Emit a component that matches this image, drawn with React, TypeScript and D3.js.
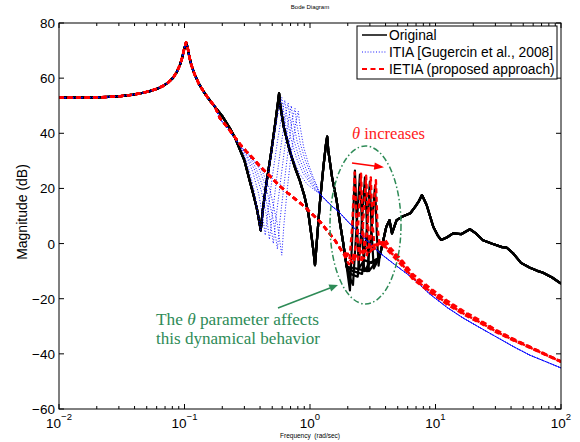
import React from "react";
import * as d3 from "d3";

type P = [number, number];

// ---------- data (frequency rad/s, magnitude dB) ----------
const lowFreq: P[] = [
  [0.01, 52.9], [0.015, 52.9], [0.02, 53.0], [0.025, 53.2], [0.03, 53.4], [0.039, 54.0],
  [0.046, 54.6], [0.053, 55.3], [0.06, 56.1], [0.067, 57.1], [0.074, 58.4], [0.081, 60.1],
  [0.087, 62.3], [0.092, 64.8], [0.096, 67.5], [0.099, 70.2], [0.103, 73.0], [0.106, 71.0],
  [0.109, 68.0], [0.113, 65.0], [0.12, 61.5], [0.13, 58.0], [0.145, 54.5], [0.16, 51.8], [0.175, 49.6],
];

const originalMid: P[] = [
  [0.2, 46.2], [0.23, 41.8], [0.255, 38.0], [0.277, 34.0], [0.3, 30.2], [0.33, 23.0], [0.355, 17.5],
  [0.376, 13.0], [0.392, 8.5], [0.405, 4.8], [0.42, 12.0], [0.45, 22.0], [0.49, 33.0], [0.53, 44.0],
  [0.555, 51.0], [0.567, 54.5], [0.58, 50.0], [0.62, 42.0], [0.69, 33.6], [0.76, 27.5], [0.83, 22.8],
  [0.9, 17.5], [0.97, 11.0], [1.03, 2.4], [1.07, -3.5], [1.096, -7.8], [1.13, 0.0], [1.2, 15.0],
  [1.28, 28.0], [1.34, 36.0], [1.37, 38.8], [1.4, 33.6], [1.5, 24.0], [1.63, 15.6], [1.74, 7.0],
  [1.84, 0.1], [1.96, -8.4],
];
const originalTheta1: P[] = [[2.08, -17], [2.18, 4], [2.28, 26.5], [2.36, 8], [2.45, -9], [2.7, -6], [3.1, -7], [3.58, -5]];
const originalTheta2: P[] = [[2.06, -12], [2.2, -15], [2.32, 2], [2.5, 25], [2.6, 6], [2.7, -10], [3.0, -7], [3.58, -5]];
const originalTheta3: P[] = [[2.1, -11], [2.4, -12], [2.55, 3], [2.74, 24], [2.85, 5], [2.95, -10], [3.3, -7], [3.58, -5]];
const originalTheta4: P[] = [[2.2, -10], [2.6, -11], [2.8, 2], [3.0, 22.5], [3.1, 4], [3.22, -9], [3.58, -5]];
const originalTheta5: P[] = [[2.3, -9], [2.85, -10], [3.05, 2], [3.3, 21], [3.42, 2], [3.52, -8], [3.58, -5]];
const originalTail: P[] = [
  [4.05, 6.0], [4.3, 8.5], [4.5, 3.7], [4.9, 8.5], [5.4, 9.7], [6.3, 11.0], [6.9, 13.4], [7.4, 15.5],
  [7.8, 17.6], [8.5, 14.0], [9.6, 6.1], [10.4, 3.0], [11.1, 1.3], [12.4, 2.3], [13.8, 3.7], [16.0, 3.4],
  [18.8, 5.2], [21.0, 3.7], [23.9, 1.2], [28.0, 0.0], [33.9, -1.3], [37.0, -1.5], [41.5, -3.5], [48.0, -7.0],
  [56.6, -8.8], [64.0, -9.8], [72.0, -10.6], [85.0, -12.3], [100, -14.5],
];

const itiaHead: P[] = [[0.192, 45.2], [0.22, 41.8], [0.25, 38.3], [0.277, 35.4]];
const itiaTheta1: P[] = [[0.3, 32], [0.33, 26], [0.36, 19], [0.385, 11], [0.405, 4.5], [0.425, 12], [0.46, 24], [0.51, 37], [0.56, 48], [0.596, 53], [0.615, 48], [0.66, 39], [0.73, 31], [0.82, 25.5], [0.95, 21.5], [1.08, 19.5]];
const itiaTheta2: P[] = [[0.31, 32], [0.35, 26], [0.39, 18], [0.42, 10], [0.44, 3], [0.46, 11], [0.5, 24], [0.55, 37], [0.6, 47.5], [0.63, 52], [0.65, 47], [0.7, 38.5], [0.78, 31], [0.88, 25.5], [1.0, 22], [1.1, 19.5]];
const itiaTheta3: P[] = [[0.31, 32.5], [0.36, 27], [0.41, 19], [0.45, 10], [0.475, 1.5], [0.5, 10], [0.54, 23], [0.59, 36], [0.64, 47], [0.67, 51], [0.69, 46], [0.74, 38], [0.82, 31], [0.92, 25.5], [1.03, 22], [1.12, 19.5]];
const itiaTheta4: P[] = [[0.32, 32.5], [0.37, 27.5], [0.43, 19.5], [0.48, 9], [0.51, 0], [0.535, 9], [0.58, 22], [0.63, 35], [0.68, 46], [0.71, 50], [0.73, 45], [0.79, 37], [0.87, 30.5], [0.97, 25], [1.08, 21.5], [1.15, 19.5]];
const itiaTheta5: P[] = [[0.33, 32], [0.39, 27.5], [0.45, 20], [0.51, 8.5], [0.55, -2], [0.575, 8], [0.62, 21], [0.67, 34], [0.72, 45], [0.76, 49], [0.78, 44], [0.84, 36], [0.92, 30], [1.02, 25], [1.12, 21]];
const itiaTheta6: P[] = [[0.34, 31.5], [0.41, 27], [0.48, 19.5], [0.55, 7], [0.596, -4.2], [0.62, 7], [0.66, 20], [0.71, 33], [0.77, 44], [0.807, 48], [0.83, 43], [0.89, 35], [0.97, 29], [1.06, 24], [1.15, 20.5]];
const itiaTail: P[] = [
  [1.2, 18.0], [1.32, 16.0], [1.5, 13.5], [1.7, 11.5], [2.0, 8.0], [2.5, 3.5], [3.0, 0.0], [3.6, -3.4],
  [4.34, -6.3], [5.4, -9.6], [6.7, -12.8], [9.0, -18.3], [12.4, -23.2], [16.6, -27.0], [22.6, -30.5],
  [30.9, -34.0], [41.5, -37.3], [56.6, -40.5], [77.3, -43.0], [100, -45.1],
];

const ietiaHead: P[] = [
  [0.192, 45.4], [0.22, 42.2], [0.25, 38.8], [0.28, 35.8], [0.31, 33.5], [0.35, 31.0], [0.4, 28.0],
  [0.48, 24.5], [0.57, 21.0], [0.66, 18.5], [0.77, 16.0], [0.9, 13.5], [1.05, 10.5], [1.2, 8.0],
  [1.36, 4.9], [1.58, 1.2], [1.84, -3.5],
];
const ietiaTheta1: P[] = [[1.95, -6], [2.05, -7.5], [2.16, 5], [2.27, 25.8], [2.35, 8], [2.45, -4], [2.7, -2], [3.2, -0.5], [3.7, 0], [4.34, -3.4], [5.4, -8], [6.6, -12.9], [9.0, -17.6], [12.4, -22.1], [16.6, -25.6], [22.6, -28.8], [30.9, -32.3], [41.5, -35.1], [56.6, -37.8], [77.3, -40.64], [100, -42.9]];
const ietiaTheta2: P[] = [[1.98, -5], [2.2, -7], [2.4, 4], [2.55, 25.3], [2.63, 7], [2.73, -3], [3.1, -1], [3.7, 0.5], [4.34, -2.9], [5.4, -7.5], [6.6, -12.45], [9.0, -17.2], [12.4, -21.75], [16.6, -25.3], [22.6, -28.55], [30.9, -32.1], [41.5, -34.95], [56.6, -37.7], [77.3, -40.57], [100, -42.85]];
const ietiaTheta3: P[] = [[2.0, -4.5], [2.4, -6.5], [2.62, 4], [2.8, 24.6], [2.9, 7], [3.0, -3], [3.5, 0], [3.9, 0.5], [4.34, -2.4], [5.4, -7], [6.6, -12], [9.0, -16.8], [12.4, -21.4], [16.6, -25], [22.6, -28.3], [30.9, -31.9], [41.5, -34.8], [56.6, -37.6], [77.3, -40.5], [100, -42.8]];
const ietiaTheta4: P[] = [[2.05, -4], [2.6, -6], [2.85, 4], [3.05, 24], [3.15, 7], [3.28, -2], [3.7, 1], [4.34, -1.9], [5.4, -6.5], [6.6, -11.55], [9.0, -16.4], [12.4, -21.05], [16.6, -24.7], [22.6, -28.05], [30.9, -31.7], [41.5, -34.65], [56.6, -37.5], [77.3, -40.43], [100, -42.75]];
const ietiaTheta5: P[] = [[2.1, -3.8], [2.8, -5.5], [3.1, 4], [3.35, 23], [3.45, 6], [3.6, -1], [3.95, 1.5], [4.34, -1.4], [5.4, -6], [6.6, -11.1], [9.0, -16], [12.4, -20.7], [16.6, -24.4], [22.6, -27.8], [30.9, -31.5], [41.5, -34.5], [56.6, -37.4], [77.3, -40.36], [100, -42.7]];

const yTicks = [80, 60, 40, 20, 0, -20, -40, -60];
const xDecades = [0.01, 0.1, 1, 10, 100];
const xExponents = ["−2", "−1", "0", "1", "2"];
const legendLabels = ["Original", "ITIA [Gugercin et al., 2008]", "IETIA (proposed approach)"];

// ---------- layout ----------
const W = 580, H = 442;
const L = 59, R = 561, T = 23, B = 409;
const GREEN = "#2e8b57";
const SANS = "'Liberation Sans', Arial, Helvetica, sans-serif";
const SERIF = "'Liberation Serif', 'Times New Roman', serif";

export default function App() {
  const x = d3.scaleLog().domain([0.01, 100]).range([L, R]);
  const y = d3.scaleLinear().domain([-60, 80]).range([B, T]);
  const line = d3.line<P>().x((d) => x(d[0])).y((d) => y(d[1]));

  const originals = [originalTheta1, originalTheta2, originalTheta3, originalTheta4, originalTheta5].map(
    (t) => [...lowFreq, ...originalMid, ...t, ...originalTail]
  );
  const itias = [itiaTheta1, itiaTheta2, itiaTheta3, itiaTheta4, itiaTheta5, itiaTheta6].map(
    (t) => [...lowFreq, ...itiaHead, ...t, ...itiaTail]
  );
  const ietias = [ietiaTheta1, ietiaTheta2, ietiaTheta3, ietiaTheta4, ietiaTheta5].map(
    (t) => [...lowFreq, ...ietiaHead, ...t]
  );

  const minorTicks: number[] = [];
  for (let d = 0; d < xDecades.length - 1; d++) {
    for (let m = 2; m <= 9; m++) minorTicks.push(xDecades[d] * m);
  }

  return (
    <svg width={W} height={H} style={{ position: "absolute", left: 0, top: 0, background: "#fff" }}
      xmlns="http://www.w3.org/2000/svg">
      <rect x={0} y={0} width={W} height={H} fill="#fff" />
      <defs>
        <clipPath id="plotclip">
          <rect x={L} y={T} width={R - L} height={B - T} />
        </clipPath>
      </defs>

      {/* title */}
      <text x={310} y={9} fontSize={6} fontFamily={SANS} textAnchor="middle">Bode Diagram</text>

      {/* curves */}
      <g clipPath="url(#plotclip)" fill="none" strokeLinejoin="round">
        {originals.map((d, i) => (
          <path key={"o" + i} d={line(d) || ""} stroke="#000" strokeWidth={2.2} />
        ))}
        {itias.map((d, i) => (
          <path key={"b" + i} d={line(d) || ""} stroke="#0000ff" strokeWidth={0.9} strokeDasharray="1,1.8" />
        ))}
        {ietias.map((d, i) => (
          <path key={"r" + i} d={line(d) || ""} stroke="#ff0000" strokeWidth={2.4} strokeDasharray="5,3.5" />
        ))}
      </g>

      {/* axes box & ticks */}
      <g stroke="#000" strokeWidth={1} fill="none">
        <rect x={L} y={T} width={R - L} height={B - T} />
        {yTicks.map((v) => (
          <g key={"yt" + v}>
            <line x1={L} x2={L + 5} y1={y(v)} y2={y(v)} />
            <line x1={R} x2={R - 5} y1={y(v)} y2={y(v)} />
          </g>
        ))}
        {xDecades.map((v) => (
          <g key={"xt" + v}>
            <line x1={x(v)} x2={x(v)} y1={B} y2={B - 5} />
            <line x1={x(v)} x2={x(v)} y1={T} y2={T + 5} />
          </g>
        ))}
        {minorTicks.map((v, i) => (
          <g key={"xm" + i}>
            <line x1={x(v)} x2={x(v)} y1={B} y2={B - 3} />
            <line x1={x(v)} x2={x(v)} y1={T} y2={T + 3} />
          </g>
        ))}
      </g>

      {/* tick labels */}
      <g fontFamily={SANS} fontSize={13.5} fill="#000">
        {yTicks.map((v) => (
          <text key={"yl" + v} x={L - 4} y={y(v) + 5} textAnchor="end">
            {v < 0 ? "−" + Math.abs(v) : String(v)}
          </text>
        ))}
        {xDecades.map((v, i) => (
          <text key={"xl" + v} x={x(v)} y={428} textAnchor="middle">
            <tspan>10</tspan>
            <tspan dy={-8} fontSize={9.5}>{xExponents[i]}</tspan>
          </text>
        ))}
      </g>

      {/* axis labels */}
      <text transform="translate(27,212) rotate(-90)" fontFamily={SANS} fontSize={14} textAnchor="middle">
        Magnitude (dB)
      </text>
      <text x={310} y={438} fontFamily={SANS} fontSize={6.5} textAnchor="middle" style={{ whiteSpace: "pre" }}>
        {"Frequency  (rad/sec)"}
      </text>

      {/* legend */}
      <g>
        <rect x={357} y={26} width={200} height={53} fill="#fff" stroke="#000" strokeWidth={1} />
        <line x1={362} x2={387} y1={35} y2={35} stroke="#000" strokeWidth={1.5} />
        <line x1={362} x2={387} y1={52} y2={52} stroke="#0000ff" strokeWidth={0.9} strokeDasharray="1,1.8" />
        <line x1={362} x2={387} y1={69} y2={69} stroke="#ff0000" strokeWidth={2} strokeDasharray="5,3.5" />
        {legendLabels.map((s, i) => (
          <text key={s} x={389} y={40 + i * 17} fontFamily={SANS} fontSize={13.8}>{s}</text>
        ))}
      </g>

      {/* annotations */}
      <ellipse cx={365.5} cy={225} rx={35.5} ry={79} fill="none" stroke={GREEN}
        strokeWidth={1.5} strokeDasharray="6,2.5,1.5,2.5" />

      <text x={352} y={139} fontFamily={SERIF} fontSize={16} fill="#ff2020"
        textLength={73} lengthAdjust="spacingAndGlyphs">
        <tspan fontStyle="italic">θ</tspan> increases
      </text>
      <line x1={352} y1={163} x2={376} y2={166.2} stroke="#ff0000" strokeWidth={1.6} />
      <polygon points="384,167.3 374.8,162.4 373.8,169.8" fill="#ff0000" />

      <text x={156} y={325} fontFamily={SERIF} fontSize={16} fill={GREEN}
        textLength={163} lengthAdjust="spacingAndGlyphs">
        The <tspan fontStyle="italic">θ</tspan> parameter affects
      </text>
      <text x={156} y={343.5} fontFamily={SERIF} fontSize={16} fill={GREEN}
        textLength={164} lengthAdjust="spacingAndGlyphs">
        this dynamical behavior
      </text>
      <line x1={278} y1={308} x2={330} y2={288} stroke={GREEN} strokeWidth={1.6} />
      <polygon points="338,285 328.5,284.6 331.2,291.6" fill={GREEN} />
    </svg>
  );
}
